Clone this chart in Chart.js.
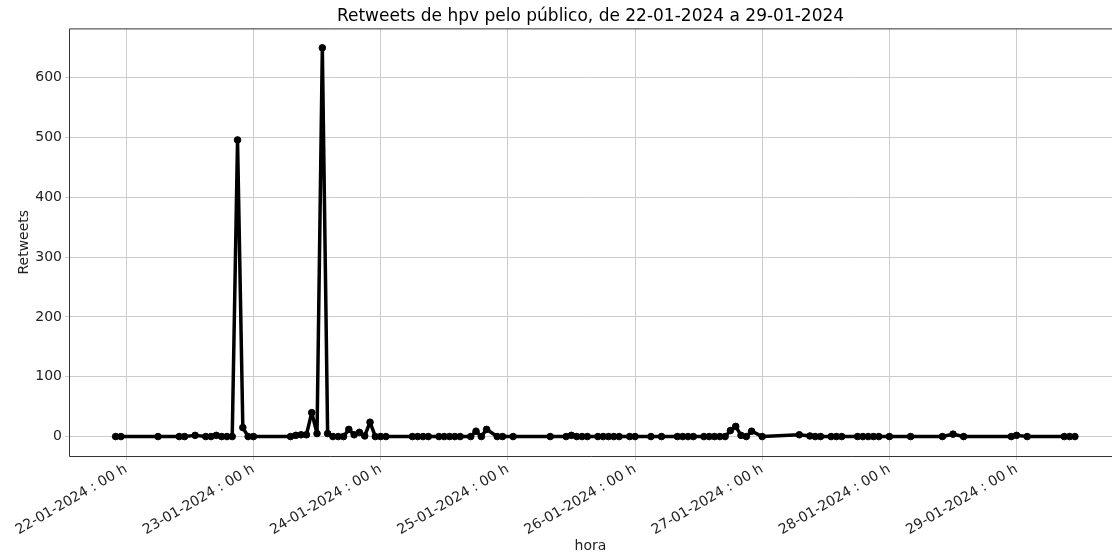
<!DOCTYPE html>
<html>
<head>
<meta charset="utf-8">
<script src="https://cdn.jsdelivr.net/npm/chart.js@4"></script>
<style>
  html, body { margin: 0; padding: 0; background: #fff; }
  #wrap { width: 1112px; height: 555px; }
</style>
</head>
<body>
<div id="wrap"><canvas id="chart" width="1112" height="555"></canvas></div>
<script>
  // hours counted from 22-01-2024 00h
  const hours = [
    -2, -1, 6, 10, 11, 13, 15, 16, 17, 18, 19, 20, 21, 22, 23, 24,
    31, 32, 33, 34, 35, 36, 37, 38, 39, 40, 41, 42, 43, 44, 45, 46, 47, 48, 49,
    54, 55, 56, 57, 59, 60, 61, 62, 63, 65, 66, 67, 68, 70, 71, 73,
    80, 83, 84, 85, 86, 87, 89, 90, 91, 92, 93, 95, 96, 99, 101,
    104, 105, 106, 107, 109, 110, 111, 112, 113, 114, 115, 116, 117, 118, 120,
    127, 129, 130, 131, 133, 134, 135, 138, 139, 140, 141, 142, 144, 148,
    154, 156, 158, 167, 168, 170, 177, 178, 179
  ];
  const retweets = [
    0, 0, 0, 0, 0, 2, 0, 0, 2, 0, 0, 0, 496, 15, 0, 0,
    0, 2, 3, 3, 40, 5, 650, 5, 0, 0, 0, 12, 3, 7, 1, 24, 0, 0, 0,
    0, 0, 0, 0, 0, 0, 0, 0, 0, 0, 9, 0, 12, 0, 0, 0,
    0, 0, 2, 0, 0, 0, 0, 0, 0, 0, 0, 0, 0, 0, 0,
    0, 0, 0, 0, 0, 0, 0, 0, 0, 10, 17, 2, 0, 9, 0,
    3, 1, 0, 0, 0, 0, 0, 0, 0, 0, 0, 0, 0, 0,
    0, 4, 0, 0, 2, 0, 0, 0, 0
  ];
  const dayTicks = [0, 24, 48, 72, 96, 120, 144, 168];
  const dayLabels = [
    '22-01-2024 : 00 h', '23-01-2024 : 00 h', '24-01-2024 : 00 h', '25-01-2024 : 00 h',
    '26-01-2024 : 00 h', '27-01-2024 : 00 h', '28-01-2024 : 00 h', '29-01-2024 : 00 h'
  ];
  const yTicks = [0, 100, 200, 300, 400, 500, 600];

  const font = 'DejaVu Sans';

  // left, top and bottom spines (the right one is off the picture)
  const frame = {
    id: 'frame',
    afterDraw(chart) {
      const a = chart.chartArea;
      const ctx = chart.ctx;
      ctx.save();
      ctx.strokeStyle = '#333';
      ctx.lineWidth = 1;
      ctx.beginPath();
      ctx.moveTo(a.right + 1, a.top + 0.5);
      ctx.lineTo(a.left + 0.5, a.top + 0.5);
      ctx.lineTo(a.left + 0.5, a.bottom + 0.5);
      ctx.lineTo(a.right + 1, a.bottom + 0.5);
      ctx.stroke();
      ctx.restore();
    }
  };

  new Chart(
    document.getElementById('chart'),
    {
      type: 'scatter',
      data: {
        datasets: [{
          label: 'Retweets',
          data: hours.map((h, i) => ({ x: h, y: retweets[i] })),
          showLine: true,
          borderColor: '#000',
          backgroundColor: '#000',
          borderWidth: 3.5,
          borderJoinStyle: 'round',
          borderCapStyle: 'round',
          pointBorderWidth: 1,
          pointRadius: 3.3,
          pointHoverRadius: 3.3,
          tension: 0
        }]
      },
      plugins: [frame],
      options: {
        responsive: false,
        animation: false,
        layout: { autoPadding: false, padding: { right: 0 } },
        plugins: {
          legend: { display: false },
          tooltip: { enabled: false },
          title: {
            display: true,
            fullSize: false,
            text: 'Retweets de hpv pelo público, de 22-01-2024 a 29-01-2024',
            color: '#000',
            font: { family: font, size: 17, weight: 'normal' },
            padding: { top: 6, bottom: 2 }
          }
        },
        scales: {
          x: {
            type: 'linear',
            min: -10.8,
            max: 186,
            afterFit: (scale) => {
              scale.height = 99;
              scale.paddingLeft = 0;
              scale.paddingRight = 0;
            },
            afterBuildTicks: (scale) => { scale.ticks = dayTicks.map(v => ({ value: v })); },
            grid: { color: '#cccccc', tickLength: 4, lineWidth: 1 },
            border: { display: false },
            ticks: {
              color: '#222',
              font: { family: font, size: 14 },
              minRotation: 30,
              maxRotation: 30,
              autoSkip: false,
              padding: 1,
              callback: (value) => dayLabels[dayTicks.indexOf(value)]
            },
            title: {
              display: true,
              text: 'hora',
              color: '#222',
              font: { family: font, size: 14 },
              padding: { top: 0, bottom: 0 }
            }
          },
          y: {
            min: -32.5,
            max: 682.5,
            afterFit: (scale) => { scale.width = 69; },
            afterBuildTicks: (scale) => { scale.ticks = yTicks.map(v => ({ value: v })); },
            grid: { color: '#cccccc', tickLength: 4, lineWidth: 1 },
            border: { display: false },
            ticks: {
              color: '#222',
              font: { family: font, size: 14 },
              padding: 3
            },
            title: {
              display: true,
              text: 'Retweets',
              color: '#222',
              font: { family: font, size: 14 },
              padding: { top: 16, bottom: 0 }
            }
          }
        }
      }
    }
  );
</script>
</body>
</html>
